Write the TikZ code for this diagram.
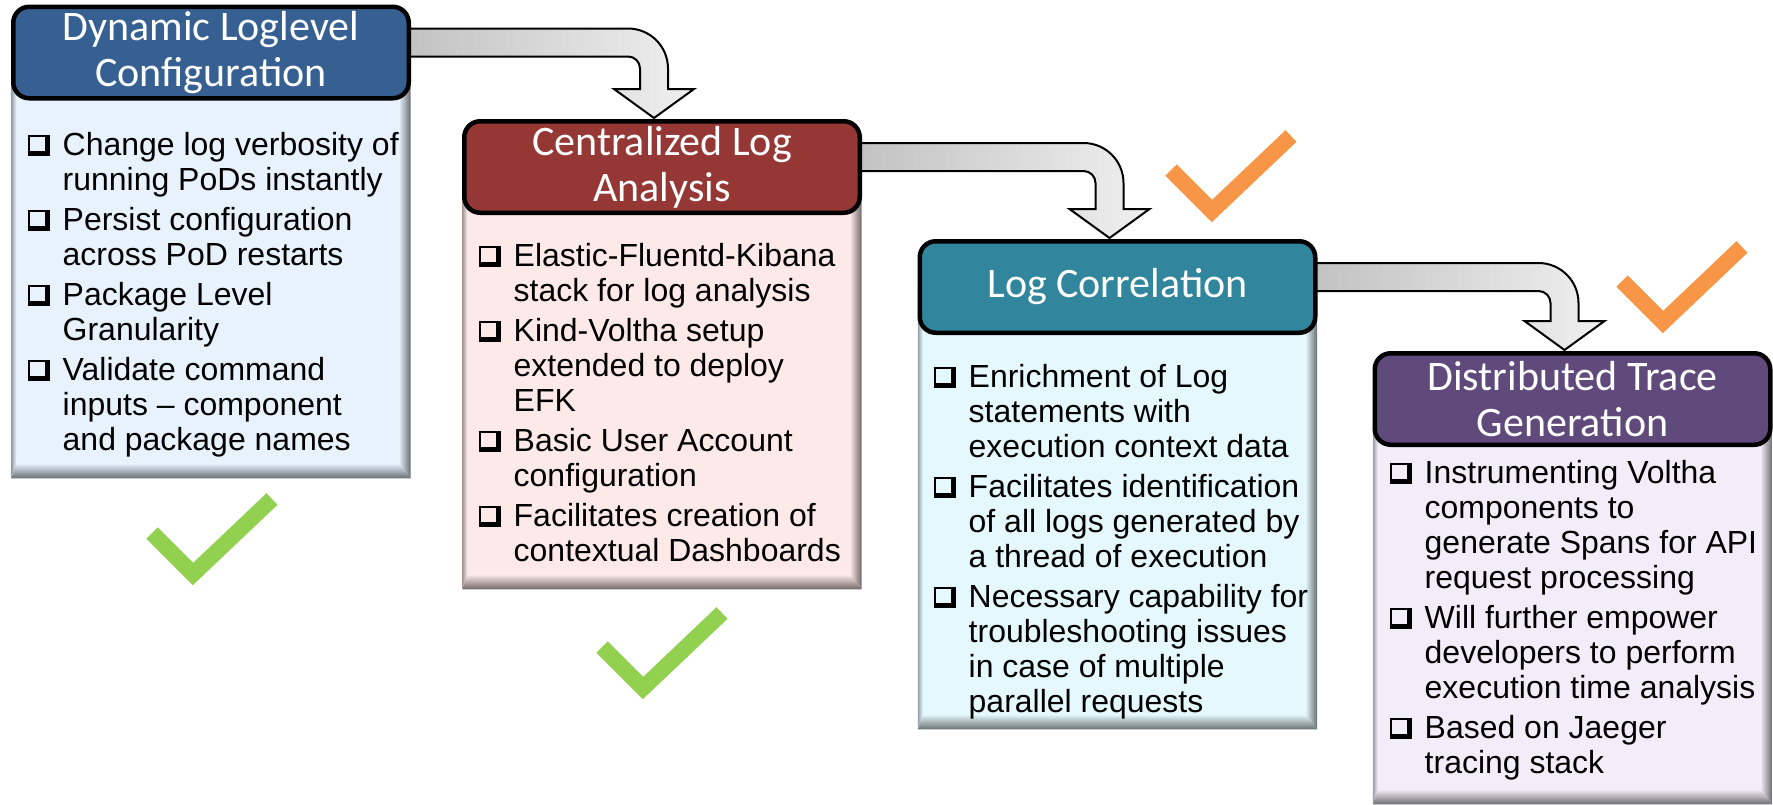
\documentclass[tikz,border=0pt]{standalone}
\usepackage{fontspec}
\newfontfamily\headfont{Carlito}
\newfontfamily\bodyfont{Liberation Sans}
\usepackage{tikz}
\usetikzlibrary{positioning,calc,backgrounds}

% square bullet with a drop shadow, plus the hanging indent
\newcommand{\cbx}{\makebox[3.5mm][l]{%
  \rlap{\rule{2.2mm}{0.45mm}}%
  \rlap{\rule{0.2mm}{2.1mm}}%
  \rlap{\raisebox{1.9mm}{\rule{2.2mm}{0.2mm}}}%
  \rlap{\hspace{1.7mm}\rule{0.5mm}{2.1mm}}}}
\newcommand{\ind}{\hspace*{3.5mm}}

\begin{document}
\begin{tikzpicture}
[x=0.1mm,y=0.1mm,
hdr/.style={draw=black,line width=0.45mm,rounded corners=1.6mm,fill=#1,text=white,
  font=\headfont\fontsize{11.95pt}{13pt}\selectfont,align=center,
  minimum width=39.55mm,minimum height=9.15mm,inner sep=0pt},
body/.style={fill=#1,minimum width=39.8mm,inner sep=0pt,anchor=north},
list/.style={font=\bodyfont\fontsize{9.1pt}{9.96pt}\selectfont,align=left,
  anchor=north west,inner sep=0pt},
flow/.style={draw=black,line width=0.2mm,left color=gray!50,right color=gray!12},
tick/.style={draw=#1,line width=1.6mm,line join=miter}]
% Colors
\definecolor{hblue}{HTML}{376092}
\definecolor{hred}{HTML}{953735}
\definecolor{hteal}{HTML}{31859C}
\definecolor{hpurple}{HTML}{604A7B}
\definecolor{bodyblue}{HTML}{E8F2FD}
\definecolor{bodyred}{HTML}{FDE9E8}
\definecolor{bodyteal}{HTML}{E5F8FD}
\definecolor{bodypurple}{HTML}{F2EEF9}
\definecolor{tickgreen}{HTML}{92D050}
\definecolor{tickorange}{HTML}{F79646}
\useasboundingbox (0,0) rectangle (1773,-804);
% The stages
\node[body=bodyblue,minimum height=42.45mm] (b1) at (211,-52.5) {};
\node[body=bodyred,minimum height=42.1mm] (b2) at (662,-167) {};
\node[body=bodyteal,minimum height=44.1mm] (b3) at (1117.5,-287) {};
\node[body=bodypurple,minimum height=40.4mm] (b4) at (1572.5,-399) {};
\foreach \b/\c in {b1/bodyblue,b2/bodyred,b3/bodyteal,b4/bodypurple}{
  \shade[left color=\c,right color=\c!45!black]
    ($(\b.north east)+(-1.2mm,0)$) -- (\b.north east) -- (\b.south east)
    -- ($(\b.south east)+(-1.2mm,1.5mm)$) -- cycle;
  \shade[top color=\c,bottom color=\c!45!black]
    ($(\b.south west)+(0.5mm,1.5mm)$) -- ($(\b.south east)+(-1.2mm,1.5mm)$)
    -- (\b.south east) -- (\b.south west) -- cycle;
  \shade[left color=\c!65!black,right color=\c]
    (\b.north west) -- ($(\b.north west)+(0.5mm,0)$)
    -- ($(\b.south west)+(0.5mm,1.5mm)$) -- (\b.south west) -- cycle;
}
\node[hdr=hblue] (h1) at (211,-52.5) {Dynamic Loglevel\\Configuration};
\node[hdr=hred] (h2) at (662,-167) {Centralized Log\\Analysis};
\node[hdr=hteal] (h3) at (1117.5,-287) {Log Correlation};
\node[hdr=hpurple] (h4) at (1572.5,-399) {Distributed Trace\\Generation};
% The bullet lists
\node[list] (l1) at (27,-132) {\cbx Change log verbosity of\\
  \ind running PoDs instantly\\[0.5mm]
  \cbx Persist configuration\\ \ind across PoD restarts\\[0.5mm]
  \cbx Package Level\\ \ind Granularity\\[0.5mm]
  \cbx Validate command\\ \ind inputs – component\\ \ind and package names};
\node[list] (l2) at (478,-243) {\cbx Elastic-Fluentd-Kibana\\
  \ind stack for log analysis\\[0.5mm]
  \cbx Kind-Voltha setup\\ \ind extended to deploy\\ \ind EFK\\[0.5mm]
  \cbx Basic User Account\\ \ind configuration\\[0.5mm]
  \cbx Facilitates creation of\\ \ind contextual Dashboards};
\node[list] (l3) at (933,-364) {\cbx Enrichment of Log\\
  \ind statements with\\ \ind execution context data\\[0.5mm]
  \cbx Facilitates identification\\ \ind of all logs generated by\\
  \ind a thread of execution\\[0.5mm]
  \cbx Necessary capability for\\ \ind troubleshooting issues\\
  \ind in case of multiple\\ \ind parallel requests};
\node[list] (l4) at (1389,-460) {\cbx Instrumenting Voltha\\
  \ind components to\\ \ind generate Spans for API\\ \ind request processing\\[0.5mm]
  \cbx Will further empower\\ \ind developers to perform\\
  \ind execution time analysis\\[0.5mm]
  \cbx Based on Jaeger\\ \ind tracing stack};
% Bent arrows from one stage to the next
\begin{scope}[on background layer]
\foreach \a/\b in {h1/h2,h2/h3,h3/h4}
\draw[flow] let \p1=(\a.north east), \p2=($(\b.north)+(-0.8mm,0)$) in
  (\x1-2mm,\y1-2.4mm) -- (\x2-2.6mm,\y1-2.4mm)
  arc[start angle=90,end angle=0,radius=4mm]
  -- (\x2+1.4mm,\y2+3mm) -- (\x2+4mm,\y2+3mm) -- (\x2,\y2+0.1mm)
  -- (\x2-4mm,\y2+3mm) -- (\x2-1.4mm,\y2+3mm) -- (\x2-1.4mm,\y1-6.4mm)
  arc[start angle=0,end angle=90,radius=1.2mm]
  -- (\x1-2mm,\y1-5.2mm) -- cycle;
\end{scope}
% Ticks
\foreach \vx/\vy/\c in {193/-574/tickgreen,643/-688/tickgreen,
  1212/-211/tickorange,1663/-322/tickorange}
\draw[tick=\c] (\vx-41,\vy+41) -- (\vx,\vy) -- (\vx+79,\vy+75);
\end{tikzpicture}
\end{document}
